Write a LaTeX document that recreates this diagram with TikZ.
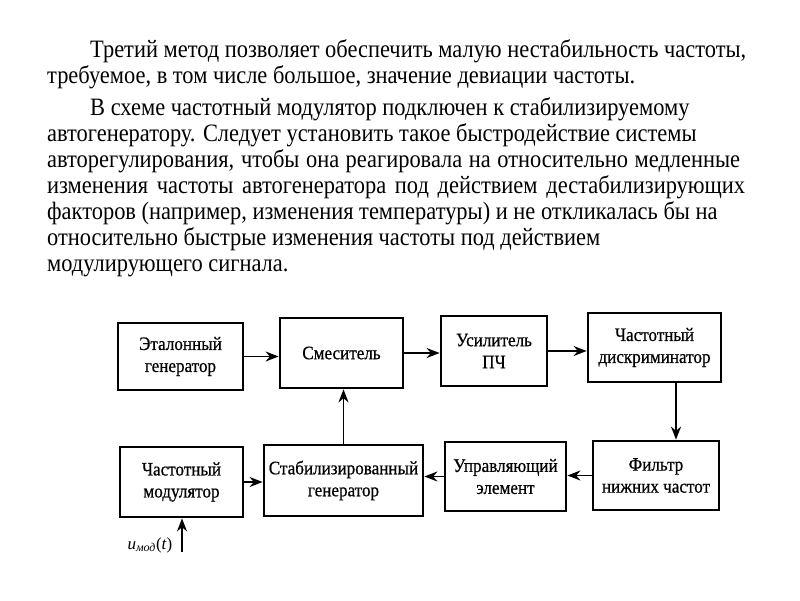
\documentclass[tikz,border=0pt]{standalone}
\usepackage{fontspec}
\setmainfont{Liberation Serif}
\newfontfamily\boxfont{Liberation Serif}[FakeStretch=0.9, FakeBold=0.6]
\usetikzlibrary{arrows.meta}
\newsavebox\linebox
\newcommand\bodyfont{\fontsize{25}{29}\selectfont}
\tikzset{
  blk/.style={draw, line width=2.8pt, align=center, inner sep=2pt,
    font=\boxfont\fontsize{19}{22}\selectfont},
  arr/.style={line width=1.6pt, -{Stealth[length=13pt,width=10pt]}},
  txtline/.style={anchor=base west, inner sep=0pt, font=\bodyfont}
}
\begin{document}
\sbox\linebox{\bodyfont Третий метод позволяет обеспечить малую нестабильность частоты,}%
\pgfmathsetmacro\gf{656/\the\wd\linebox}%
\pgfmathsetmacro\wfive{(740-47)/\gf}%
\pgfmathsetmacro\wsix{(745-47)/\gf}%
\begin{tikzpicture}[x=1pt,y=-1pt]
\useasboundingbox (0,0) rectangle (800,600);
% text
\node[txtline] (t1) at (90,57) {\scalebox{\gf}[1]{Третий метод позволяет обеспечить малую нестабильность частоты,}};
\node[txtline] (t2) at (47,83) {\scalebox{\gf}[1]{требуемое, в том числе большое, значение девиации частоты.}};
\node[txtline] (t3) at (90,115) {\scalebox{\gf}[1]{В схеме частотный модулятор подключен к стабилизируемому}};
\node[txtline] (t4) at (47,141) {\scalebox{\gf}[1]{автогенератору. Следует установить такое быстродействие системы}};
\node[txtline] (t5) at (47,167) {\scalebox{\gf}[1]{\makebox[\wfive pt][s]{авторегулирования, чтобы она реагировала на относительно медленные}}};
\node[txtline] (t6) at (47,193) {\scalebox{\gf}[1]{\makebox[\wsix pt][s]{изменения частоты автогенератора под действием дестабилизирующих}}};
\node[txtline] (t7) at (47,219) {\scalebox{\gf}[1]{факторов (например, изменения температуры) и не откликалась бы на}};
\node[txtline] (t8) at (47,245) {\scalebox{\gf}[1]{относительно быстрые изменения частоты под действием}};
\node[txtline] (t9) at (47,271) {\scalebox{\gf}[1]{модулирующего сигнала.}};
% blocks
\node[blk, minimum width=125pt, minimum height=67pt] (et) at (180.5,356.5) {Эталонный\\генератор};
\node[blk, minimum width=123pt, minimum height=70pt] (mix) at (341.5,353) {Смеситель};
\node[blk, minimum width=106pt, minimum height=70pt] (amp) at (494,351) {Усилитель\\ПЧ};
\node[blk, minimum width=133pt, minimum height=69pt] (disc) at (654.5,347.5) {Частотный\\дискриминатор};
\node[blk, minimum width=123pt, minimum height=70pt] (mod) at (181.5,482) {Частотный\\модулятор};
\node[blk, minimum width=159pt, minimum height=71pt] (stab) at (343.5,480.5) {Стабилизированный\\генератор};
\node[blk, minimum width=121pt, minimum height=69pt] (ctrl) at (505.5,476.5) {Управляющий\\элемент};
\node[blk, minimum width=126pt, minimum height=69pt] (flt) at (656,475.5) {Фильтр\\нижних частот};
% connectors
\draw[arr] (et.east) -- (et.east -| mix.west);
\draw[arr] (mix.east) -- (mix.east -| amp.west);
\draw[arr] (amp.east) -- (amp.east -| disc.west);
\draw[arr] ([xshift=21.5pt]disc.south) -- ([xshift=21.5pt]disc.south |- flt.north);
\draw[arr] (flt.west) -- (flt.west -| ctrl.east);
\draw[arr] (ctrl.west) -- (ctrl.west -| stab.east);
\draw[arr] (mod.east) -- (mod.east -| stab.west);
\draw[arr] (stab.north) -- (stab.north |- mix.south);
\coordinate (uin) at (182,552);
\draw[arr] (uin) -- (uin |- mod.south);
\node[inner sep=0pt, font=\fontsize{17}{19}\selectfont] (ulbl) at (150,545) {\textit{u}\textsubscript{\itshape мод}(\textit{t})};
\end{tikzpicture}
\end{document}
